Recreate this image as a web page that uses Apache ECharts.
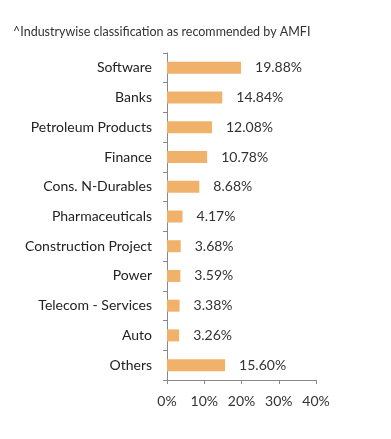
<!DOCTYPE html>
<html><head><meta charset="utf-8">
<script src="https://cdn.jsdelivr.net/npm/echarts@6/dist/echarts.min.js"></script>
<style>html,body{margin:0;padding:0;background:#fff}#c{width:391px;height:439px}</style>
</head><body><div id="c"></div>
<script>
const categories = ["Software","Banks","Petroleum Products","Finance","Cons. N-Durables","Pharmaceuticals","Construction Project","Power","Telecom - Services","Auto","Others"];
const values = [19.88,14.84,12.08,10.78,8.68,4.17,3.68,3.59,3.38,3.26,15.60];
const xTicks = [0,10,20,30,40];
const titleText = "^Industrywise classification as recommended by AMFI";

const chart = echarts.init(document.getElementById('c'));
chart.setOption({
  animation:false,
  title:{text:titleText,left:8,top:20,textStyle:{fontFamily:'Lato',fontSize:12.5,fontWeight:'normal',color:'#333'}},
  grid:{left:167,top:53,width:149,height:327,containLabel:false},
  xAxis:{type:'value',min:xTicks[0],max:xTicks[xTicks.length-1],interval:10,
    axisLine:{show:true,lineStyle:{color:'#888'}},
    axisTick:{show:true,length:4,lineStyle:{color:'#888'}},
    splitLine:{show:false},
    axisLabel:{formatter:'{value}%',fontFamily:'Lato',fontSize:14,color:'#333',margin:14}},
  yAxis:{type:'category',data:categories,inverse:true,
    axisLine:{show:true,lineStyle:{color:'#888'}},
    axisTick:{show:true,length:4,lineStyle:{color:'#888'}},
    axisLabel:{fontFamily:'Lato',fontSize:14,color:'#222',margin:15}},
  series:[{type:'bar',data:values,barWidth:12,itemStyle:{color:'#F0B26B'},
    label:{show:true,position:'right',distance:14,formatter:p=>p.value.toFixed(2)+'%',fontFamily:'Lato',fontSize:14,color:'#333'}}]
});
</script></body></html>
